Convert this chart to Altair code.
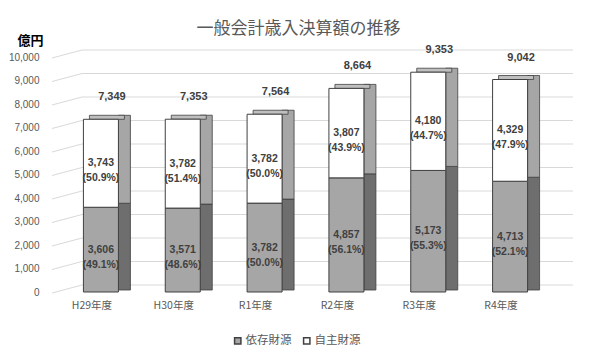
import altair as alt
import pandas as pd

categories = ["H29年度", "H30年度", "R1年度", "R2年度", "R3年度", "R4年度"]
dependent = [3606, 3571, 3782, 4857, 5173, 4713]
own = [3743, 3782, 3782, 3807, 4180, 4329]
totals = [7349, 7353, 7564, 8664, 9353, 9042]
dep_pct = ["49.1", "48.6", "50.0", "56.1", "55.3", "52.1"]
own_pct = ["50.9", "51.4", "50.0", "43.9", "44.7", "47.9"]
series = ["依存財源", "自主財源"]
ticks = [0, 1000, 2000, 3000, 4000, 5000, 6000, 7000, 8000, 9000, 10000]

rows = []
for c, d, o, dp, op in zip(categories, dependent, own, dep_pct, own_pct):
    rows.append({"cat": c, "series": series[0], "start": 0, "end": d,
                 "mid": d / 2, "label": f"{d:,}\n({dp}%)"})
    rows.append({"cat": c, "series": series[1], "start": d, "end": d + o,
                 "mid": d + o / 2, "label": f"{o:,}\n({op}%)"})
df = pd.DataFrame(rows)
tot_df = pd.DataFrame({"cat": categories, "total": totals,
                       "tlabel": [f"{t:,}" for t in totals]})
grid_df = pd.DataFrame({"v": ticks})

FONT = "Liberation Sans"
JFONT = "Noto Sans CJK JP"

xscale = alt.Scale(domain=categories, paddingInner=0.5, paddingOuter=0.25)
yscale = alt.Scale(domain=[0, 10000], nice=False)
y_axis = alt.Axis(values=ticks, format=",d", domain=False, ticks=False, grid=False,
                  labelColor="#595959", labelFontSize=10, labelFont=FONT, labelPadding=21,
                  title="億円", titleAngle=0, titleX=-30, titleY=-17, titleAlign="center",
                  titleBaseline="middle", titleFont=JFONT, titleFontSize=13,
                  titleFontWeight="bold", titleColor="#000000")
x_axis = alt.Axis(title=None, domain=False, ticks=False, labelAngle=0,
                  labelColor="#595959", labelFontSize=10.5, labelFont=JFONT,
                  labelPadding=8, labelOffset=-9)

X = alt.X("cat:N", scale=xscale, axis=x_axis, sort=categories)

grid_h = alt.Chart(grid_df).mark_rule(color="#d9d9d9", strokeWidth=1, yOffset=-7).encode(
    x=alt.value(22), x2=alt.value(513),
    y=alt.Y("v:Q", scale=yscale, axis=y_axis))
grid_s = alt.Chart(grid_df).mark_rule(color="#d9d9d9", strokeWidth=1, yOffset=1, y2Offset=-7).encode(
    x=alt.value(-8), x2=alt.value(22),
    y=alt.Y("v:Q", scale=yscale, axis=y_axis), y2="v:Q")

side_dep = alt.Chart(df[df.series == series[0]]).mark_bar(
    size=12, xOffset=23.5, yOffset=-4, y2Offset=-2, color="#6e6e6e",
    stroke="#404040", strokeWidth=0.8).encode(
    x=X, y=alt.Y("end:Q", scale=yscale, axis=y_axis), y2="start:Q")
side_own = alt.Chart(df[df.series == series[1]]).mark_bar(
    size=12, xOffset=23.5, yOffset=-4, y2Offset=-4, color="#a6a6a6",
    stroke="#404040", strokeWidth=0.8).encode(
    x=X, y=alt.Y("end:Q", scale=yscale, axis=y_axis), y2="start:Q")
top_face = alt.Chart(tot_df).mark_bar(
    size=35, xOffset=6, yOffset=-4, color="#bfbfbf",
    stroke="#404040", strokeWidth=0.8).encode(
    x=X, y=alt.Y("total:Q", scale=yscale, axis=y_axis), y2="total:Q")

front = alt.Chart(df).mark_bar(size=35, stroke="#404040", strokeWidth=1).encode(
    x=X, y=alt.Y("end:Q", scale=yscale, axis=y_axis), y2="start:Q",
    color=alt.Color("series:N", scale=alt.Scale(domain=series, range=["#a6a6a6", "#ffffff"]),
                    sort=series,
                    legend=alt.Legend(title=None, orient="none", direction="horizontal",
                                      legendX=172, legendY=278, symbolType="square",
                                      symbolSize=40, symbolStrokeColor="#404040",
                                      symbolStrokeWidth=1.5, labelFont=JFONT,
                                      labelFontSize=11.5, labelColor="#595959",
                                      columnPadding=8, labelOffset=2, padding=0)))

seg_text = alt.Chart(df).mark_text(lineBreak="\n", font=FONT, fontWeight="bold",
                                   fontSize=10.5, color="#404040", lineHeight=15,
                                   baseline="middle").encode(
    x=X, y=alt.Y("mid:Q", scale=yscale, axis=y_axis), text="label:N")

tot_text = alt.Chart(tot_df).mark_text(font=FONT, fontWeight="bold", fontSize=11,
                                       color="#404040", dx=11, dy=-22,
                                       baseline="middle").encode(
    x=X, y=alt.Y("total:Q", scale=yscale, axis=y_axis), text="tlabel:N")

chart = alt.layer(grid_h, grid_s, side_dep, side_own, top_face, front, seg_text, tot_text).properties(
    width=491, height=235,
    autosize=alt.AutoSizeParams(type="none"),
    padding={"left": 52, "top": 49, "right": 33, "bottom": 60},
    title=alt.TitleParams("一般会計歳入決算額の推移", font=JFONT, fontSize=17,
                          fontWeight="normal", color="#595959", anchor="middle",
                          frame="group", dx=-7, offset=-4),
).configure_view(stroke=None)

chart.save("out.html", embed_options={"renderer": "svg", "actions": False})
